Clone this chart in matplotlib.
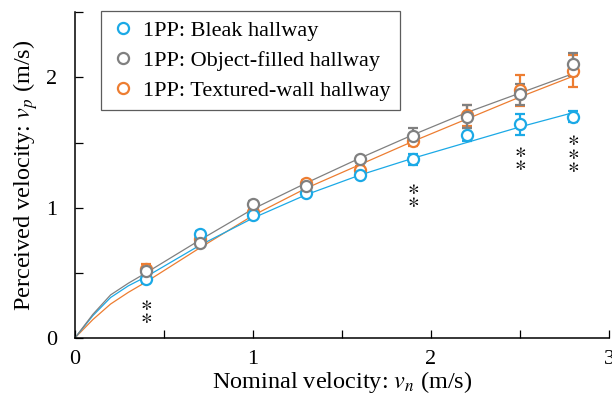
"""Perceived vs nominal velocity, 1PP hallway conditions."""

import matplotlib
matplotlib.use("Agg")
import matplotlib.pyplot as plt
from matplotlib.ticker import MultipleLocator

plt.rcParams["font.family"] = ["Liberation Serif", "DejaVu Serif"]
plt.rcParams["mathtext.fontset"] = "stix"

# measured points
nominal = [0.4, 0.7, 1.0, 1.3, 1.6, 1.9, 2.2, 2.5, 2.8]
bleak = [0.45, 0.80, 0.94, 1.11, 1.25, 1.37, 1.56, 1.64, 1.70]
bleak_err = [0.03, 0.02, 0.02, 0.02, 0.02, 0.04, 0.05, 0.08, 0.04]
objects = [0.51, 0.73, 1.03, 1.17, 1.37, 1.55, 1.70, 1.87, 2.10]
objects_err = [0.03, 0.02, 0.02, 0.02, 0.02, 0.06, 0.09, 0.08, 0.09]
textured = [0.53, 0.76, 0.97, 1.19, 1.29, 1.51, 1.71, 1.90, 2.05]
textured_err = [0.04, 0.02, 0.02, 0.02, 0.03, 0.04, 0.08, 0.12, 0.12]

# fitted curves
fit_x = [0.0, 0.1, 0.2, 0.3, 0.4, 0.7, 1.0, 1.3, 1.6, 1.9, 2.2, 2.5, 2.8]
fit_bleak = [0.0, 0.17, 0.31, 0.40, 0.47, 0.71, 0.92, 1.10, 1.25, 1.38, 1.50, 1.62, 1.73]
fit_objects = [0.0, 0.18, 0.33, 0.42, 0.50, 0.75, 0.99, 1.19, 1.38, 1.56, 1.73, 1.88, 2.03]
fit_textured = [0.0, 0.14, 0.26, 0.35, 0.43, 0.69, 0.94, 1.15, 1.33, 1.51, 1.68, 1.85, 2.01]

# significance marks: x, y of each asterisk in the stack
sig_x = [0.4, 1.9, 2.5, 2.8]
sig_y = [[0.25, 0.15], [1.14, 1.04], [1.42, 1.33], [1.51, 1.41, 1.31]]

BLUE = "#1ba9e6"
GRAY = "#808080"
ORANGE = "#ed7d31"

fig = plt.figure(figsize=(6.12, 3.98), dpi=100)
ax = fig.add_axes([0.1225, 0.151, 0.8725, 0.818])

series = [
    ("1PP: Textured-wall hallway", textured, textured_err, fit_textured, ORANGE),
    ("1PP: Bleak hallway", bleak, bleak_err, fit_bleak, BLUE),
    ("1PP: Object-filled hallway", objects, objects_err, fit_objects, GRAY),
]
colors = {}
for label, y, err, fit, color in series:
    ax.plot(fit_x, fit, color=color, lw=0.9, zorder=2)
    ax.errorbar(nominal, y, yerr=err, fmt="o", mfc="white", mec=color,
                ecolor=color, mew=1.6, ms=8, elinewidth=1.6, capsize=3.5,
                capthick=1.6, zorder=3)
    colors[label] = color

for x, ys in zip(sig_x, sig_y):
    # one stacked text per group, centred on the stack
    ax.text(x, sum(ys) / len(ys), "\n".join(["$\\ast$"] * len(ys)),
            ha="center", va="center", fontsize=16, linespacing=0.6)

order = ["1PP: Bleak hallway", "1PP: Object-filled hallway", "1PP: Textured-wall hallway"]
leg_handles = [plt.Line2D([], [], ls="none", marker="o", ms=8, mfc="white",
                          mec=colors[name], mew=1.6) for name in order]
leg = ax.legend(leg_handles, order, loc="upper left", bbox_to_anchor=(0.049, 1.003),
                fontsize=16, frameon=True, fancybox=False, edgecolor="#333333",
                handletextpad=0.35, borderpad=0.42, labelspacing=0.42,
                handlelength=1.1, borderaxespad=0.0)
leg.get_frame().set_linewidth(0.9)

ax.set_xlim(0, 3)
ax.set_ylim(0, 2.5)
ax.xaxis.set_major_locator(MultipleLocator(1))
ax.xaxis.set_minor_locator(MultipleLocator(0.5))
ax.yaxis.set_major_locator(MultipleLocator(1))
ax.yaxis.set_minor_locator(MultipleLocator(0.5))
ax.tick_params(which="both", direction="in", length=6, width=0.9, labelsize=16)
ax.tick_params(axis="x", pad=9)
ax.tick_params(axis="y", pad=13)
ax.spines["top"].set_visible(False)
ax.spines["right"].set_visible(False)
ax.spines["left"].set_linewidth(1.1)
ax.spines["bottom"].set_linewidth(1.1)

ax.set_xlabel("Nominal velocity: $\\mathit{v_n}$ (m/s)", fontsize=17.5, labelpad=0)
ax.set_ylabel("Perceived velocity: $\\mathit{v_p}$ (m/s)", fontsize=17.5, labelpad=4)

fig.savefig("out.png", dpi=100)
plt.close(fig)
